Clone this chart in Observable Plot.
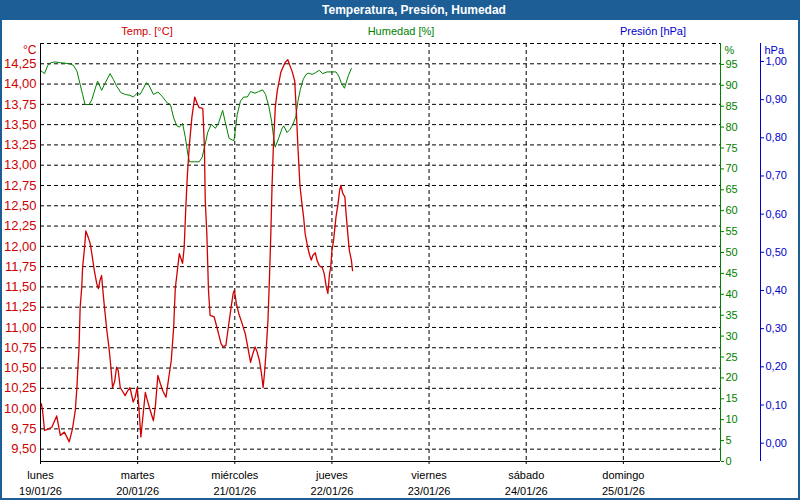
<!DOCTYPE html>
<html><head><meta charset="utf-8">
<script src="https://cdn.jsdelivr.net/npm/d3@7"></script>
<script src="https://cdn.jsdelivr.net/npm/@observablehq/plot@0.6"></script>
<style>
body{margin:0;background:#fff;font-family:"Liberation Sans",Arial,sans-serif;}
#wrap{position:relative;width:800px;height:500px;overflow:hidden;background:#fff;}
#title{position:absolute;left:0;top:0;width:800px;height:20px;box-sizing:border-box;padding-left:28px;background:#1d5e96;color:#fff;font-weight:bold;font-size:12px;line-height:20px;text-align:center;}
#frame{position:absolute;left:0;top:0;width:800px;height:500px;box-sizing:border-box;border:2px solid #1d5e96;border-top:0;pointer-events:none;}
.lbl{position:absolute;top:24px;font-size:11px;line-height:14px;transform:translateX(-50%);white-space:nowrap;}
#chart{position:absolute;left:0;top:20px;}
</style></head>
<body>
<div id="wrap">
  <div id="title">Temperatura, Presión, Humedad</div>
  <div class="lbl" style="left:147px;color:#cc0000">Temp. [°C]</div>
  <div class="lbl" style="left:401px;color:#008000">Humedad [%]</div>
  <div class="lbl" style="left:653px;color:#0000cc">Presión [hPa]</div>
  <div id="chart"></div>
  <div id="frame"></div>
</div>
<script>
// ---- data (hours since lunes 19/01/26 00:00, value) ----
const dayNames = ["lunes","martes","miércoles","jueves","viernes","sábado","domingo"];
const dateLabels = ["19/01/26","20/01/26","21/01/26","22/01/26","23/01/26","24/01/26","25/01/26"];
const tempTicks = [9.5,9.75,10,10.25,10.5,10.75,11,11.25,11.5,11.75,12,12.25,12.5,12.75,13,13.25,13.5,13.75,14,14.25];
const gridTemps = [9.5,9.75,10,10.25,10.5,10.75,11,11.25,11.5,11.75,12,12.25,12.5,12.75,13,13.25,13.5,13.75,14,14.25,14.5];
const humTicks = [0,5,10,15,20,25,30,35,40,45,50,55,60,65,70,75,80,85,90,95];
const presTicks = [0,0.1,0.2,0.3,0.4,0.5,0.6,0.7,0.8,0.9,1.0];

const tempSeries = [[0.2,10.06],[0.5,9.98],[1.0,9.73],[2.0,9.75],[2.8,9.77],[4.0,9.91],[4.9,9.67],[5.9,9.71],[7.1,9.59],[7.9,9.75],[8.6,9.98],[9.0,10.26],[9.2,10.47],[9.5,10.72],[9.8,11.25],[10.2,11.50],[10.4,11.74],[10.9,11.99],[11.2,12.19],[11.8,12.11],[12.3,12.03],[12.8,11.87],[13.3,11.70],[13.9,11.54],[14.3,11.48],[14.7,11.58],[15.1,11.64],[15.4,11.46],[15.8,11.25],[16.4,10.96],[16.9,10.76],[17.4,10.51],[17.8,10.26],[18.3,10.33],[18.8,10.51],[19.2,10.47],[19.7,10.26],[20.2,10.22],[20.9,10.16],[21.3,10.20],[22.1,10.26],[22.9,10.08],[23.4,10.14],[23.9,10.26],[24.3,10.02],[24.8,9.65],[25.2,9.85],[25.9,10.20],[26.3,10.12],[27.1,9.98],[27.9,9.85],[28.4,10.04],[29.0,10.41],[29.6,10.31],[30.2,10.22],[31.0,10.14],[31.6,10.35],[32.3,10.59],[32.9,11.00],[33.3,11.48],[33.9,11.74],[34.3,11.91],[34.7,11.85],[35.1,11.79],[35.5,11.99],[35.9,12.48],[36.3,12.89],[36.8,13.26],[37.4,13.59],[38.1,13.84],[38.7,13.76],[39.2,13.71],[40.1,13.70],[40.5,13.22],[40.7,12.57],[41.1,12.15],[41.5,11.46],[41.9,11.15],[42.9,11.13],[43.6,11.00],[44.2,10.88],[44.6,10.80],[45.1,10.76],[45.8,10.78],[46.4,11.00],[47.1,11.25],[47.6,11.42],[47.9,11.46],[48.4,11.29],[49.0,11.17],[49.8,11.05],[50.6,10.92],[51.2,10.76],[51.9,10.57],[52.3,10.65],[53.0,10.76],[53.5,10.70],[54.1,10.59],[54.6,10.43],[55.0,10.26],[55.4,10.47],[55.8,10.76],[56.2,11.09],[56.6,11.66],[56.9,12.15],[57.2,12.73],[57.5,13.18],[58.0,13.71],[58.5,13.92],[58.9,14.02],[59.4,14.15],[60.1,14.23],[60.5,14.27],[61.1,14.30],[61.6,14.23],[62.2,14.15],[62.8,14.04],[63.2,13.67],[63.6,13.22],[64.1,12.75],[64.6,12.52],[65.0,12.36],[65.4,12.15],[66.1,11.97],[66.5,11.89],[66.9,11.83],[67.3,11.89],[67.9,11.92],[68.3,11.83],[68.9,11.76],[69.6,11.74],[70.1,11.66],[70.6,11.50],[71.0,11.42],[71.4,11.66],[71.7,11.74],[72.0,11.95],[72.4,12.07],[73.0,12.36],[73.5,12.52],[73.9,12.69],[74.2,12.75],[74.7,12.65],[75.2,12.61],[75.5,12.40],[76.0,12.11],[76.3,11.95],[76.8,11.83],[77.1,11.70]];

const humSeries = [[0.2,93.4],[1.0,92.8],[1.8,94.8],[2.6,95.4],[3.6,95.6],[4.9,95.4],[6.1,95.3],[7.3,95.1],[8.1,94.8],[9.0,93.4],[9.8,90.2],[10.4,87.8],[11.0,85.4],[12.0,85.4],[12.7,86.6],[13.2,88.2],[14.1,91.0],[15.1,88.8],[16.0,90.6],[17.2,92.8],[18.0,91.4],[18.8,89.8],[19.9,88.2],[21.0,87.8],[22.1,87.6],[22.9,87.2],[23.9,88.1],[24.6,87.8],[25.5,89.4],[26.1,90.6],[26.7,90.2],[27.9,87.8],[29.0,88.4],[30.0,87.4],[31.3,85.8],[32.1,85.4],[32.9,82.2],[33.7,80.3],[34.3,80.0],[35.1,80.9],[35.8,77.5],[36.4,73.5],[36.8,71.7],[38.1,71.7],[39.2,71.7],[39.9,72.7],[40.7,75.9],[41.3,78.7],[42.2,80.7],[43.2,79.7],[44.0,81.0],[45.0,84.0],[45.6,81.4],[46.6,77.3],[47.4,76.9],[47.8,76.8],[48.2,79.8],[48.6,83.0],[49.4,86.2],[50.2,87.2],[51.1,87.2],[51.9,88.5],[53.0,88.1],[53.9,88.5],[54.9,88.9],[55.6,87.8],[56.4,85.0],[57.1,81.4],[57.6,77.5],[58.0,75.2],[58.9,77.5],[59.7,79.7],[60.1,80.3],[60.9,78.7],[61.7,79.5],[62.4,80.7],[63.1,82.6],[63.6,86.2],[64.2,89.0],[64.9,91.4],[65.6,92.6],[66.3,92.9],[67.1,92.6],[67.9,93.0],[68.9,93.6],[69.7,92.8],[70.8,93.2],[72.0,93.2],[73.0,93.2],[73.7,92.2],[74.3,90.6],[75.1,89.3],[75.5,90.6],[76.1,92.4],[76.8,94.0]];

// ---- scales / helpers ----
const T0 = 9.348, T1 = 14.5;           // temperature domain (left axis)
const H0 = 0, H1 = 100;                // humidity domain (green axis)
const P0 = -0.048, P1 = 1.047;         // pressure domain (blue axis)
const hToT = h => T0 + (h - H0) / (H1 - H0) * (T1 - T0);
const pToT = p => T0 + (p - P0) / (P1 - P0) * (T1 - T0);
const dayMs = 864e5;
const start = Date.UTC(2026, 0, 19);
const toDate = h => new Date(start + h * 3600e3);
const dayDates = dayNames.map((_, i) => new Date(start + i * dayMs));
const endDate = new Date(start + 7 * dayMs);
const dayIndex = d => Math.round((d - start) / dayMs);
const fmt2 = v => d3.format(".2f")(v).replace(".", ",");
const humLabel = new Map(humTicks.map(h => [hToT(h), String(h)]));
const presLabel = new Map(presTicks.map(p => [pToT(p), fmt2(p)]));

const RED = "#cc0000", GREEN = "#008000", BLUE = "#0000cc";
const dash = "4,3";

const chart = Plot.plot({
  width: 800,
  height: 480,
  marginLeft: 40,
  marginRight: 80,
  marginTop: 23,
  marginBottom: 39,
  style: {fontFamily: "Liberation Sans, Arial, sans-serif", fontSize: "11px", background: "transparent", overflow: "visible"},
  x: {type: "utc", domain: [new Date(start), endDate], axis: null},
  y: {domain: [T0, T1], axis: null},
  marks: [
    Plot.ruleY(gridTemps, {stroke: "#000", strokeDasharray: dash}),
    Plot.ruleX(dayDates.slice(1), {stroke: "#000", strokeDasharray: dash}),
    Plot.line(humSeries, {x: d => toDate(d[0]), y: d => hToT(d[1]), stroke: GREEN, strokeWidth: 1}),
    Plot.line(tempSeries, {x: d => toDate(d[0]), y: d => d[1], stroke: "#d00000", strokeWidth: 1.3}),
    Plot.ruleX([new Date(start)], {stroke: "#000"}),
    Plot.ruleY([T0], {stroke: "#000"}),
    Plot.ruleX([endDate], {stroke: GREEN}),
    Plot.ruleX([endDate], {stroke: BLUE, dx: 40}),
    Plot.axisY(tempTicks, {anchor: "left", tickSize: 0, tickPadding: 4, tickFormat: fmt2, color: RED, fontSize: 13, label: null}),
    Plot.axisY(humTicks.map(hToT), {anchor: "right", tickSize: 3, tickPadding: 2, tickFormat: t => humLabel.get(t), color: GREEN, label: null}),
    Plot.axisY(presTicks.map(pToT), {anchor: "right", dx: 40, tickSize: 3, tickPadding: 2, tickFormat: t => presLabel.get(t), color: BLUE, label: null}),
    Plot.axisX(dayDates, {anchor: "bottom", tickSize: 3, tickPadding: 7, tickFormat: d => dayNames[dayIndex(d)], color: "#000", label: null}),
    Plot.axisX(dayDates, {anchor: "bottom", tickSize: 0, tickPadding: 26, tickFormat: d => dateLabels[dayIndex(d)], color: "#000", label: null}),
    Plot.text(["°C"], {text: d => d, frameAnchor: "top-left", dx: -4, dy: 2, textAnchor: "end", fill: RED, fontSize: 12}),
    Plot.text(["%"], {text: d => d, frameAnchor: "top-right", dx: 4, dy: 3, textAnchor: "start", fill: GREEN}),
    Plot.text(["hPa"], {text: d => d, frameAnchor: "top-right", dx: 44, dy: 3, textAnchor: "start", fill: BLUE})
  ]
});
document.getElementById("chart").appendChild(chart);
</script>
</body></html>
